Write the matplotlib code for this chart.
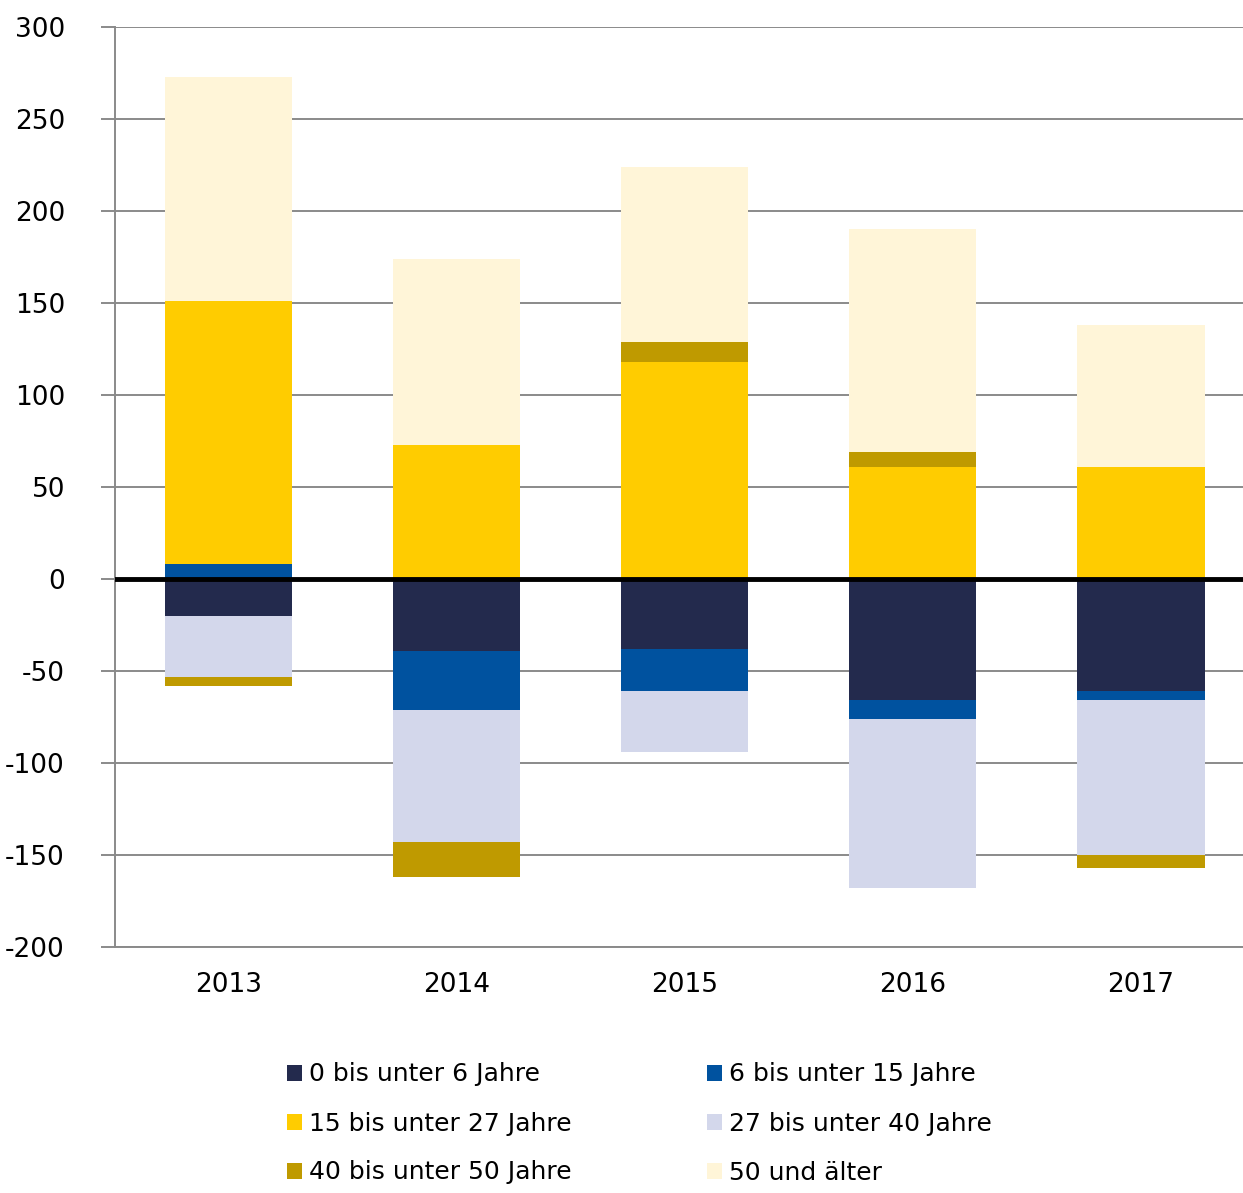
import numpy as np
import matplotlib
matplotlib.use('Agg')
import matplotlib.pyplot as plt

years = ['2013', '2014', '2015', '2016', '2017']
series_names = ['0 bis unter 6 Jahre', '6 bis unter 15 Jahre', '15 bis unter 27 Jahre',
                '27 bis unter 40 Jahre', '40 bis unter 50 Jahre', '50 und älter']
s0_6 = [-20, -39, -38, -66, -61]
s6_15 = [8, -32, -23, -10, -5]
s15_27 = [143, 73, 118, 61, 61]
s27_40 = [-33, -72, -33, -92, -84]
s40_50 = [-5, -19, 11, 8, -7]
s50 = [122, 101, 95, 121, 77]
colors = ['#232A4D', '#00529F', '#FFCC00', '#D3D7EB', '#BF9A00', '#FFF5D8']

plt.rcParams['font.family'] = ['DejaVu Sans']
plt.rcParams['axes.unicode_minus'] = False

fig = plt.figure(figsize=(12.43, 11.93), dpi=100)
ax = fig.add_axes([115/1243, 1-947/1193, 1-115/1243, (947-27)/1193])

x = np.arange(len(years))
pos_bottom = np.zeros(len(years))
neg_bottom = np.zeros(len(years))
handles = []
for name, vals, col in zip(series_names, [s0_6, s6_15, s15_27, s27_40, s40_50, s50], colors):
    vals = np.array(vals, dtype=float)
    bottoms = np.where(vals >= 0, pos_bottom, neg_bottom)
    b = ax.bar(x, vals, bottom=bottoms, width=0.557, color=col, label=name, zorder=3)
    handles.append(b)
    pos_bottom += np.where(vals >= 0, vals, 0)
    neg_bottom += np.where(vals < 0, vals, 0)

ax.set_xlim(-0.496, 4.447)
ax.set_ylim(-200, 300)
ax.set_yticks(range(-200, 301, 50))
ax.set_xticks(x)
ax.set_xticklabels(years)
ax.grid(axis='y', color='#8a8a8a', linewidth=1.4, zorder=0)
ax.axhline(0, color='black', linewidth=3.5, zorder=4)

for s in ['top', 'right']:
    ax.spines[s].set_visible(False)
for s in ['left', 'bottom']:
    ax.spines[s].set_color('#8a8a8a')
    ax.spines[s].set_linewidth(1.4)
ax.tick_params(axis='y', length=10, width=1.4, color='#8a8a8a', pad=26, labelsize=19)
ax.tick_params(axis='x', length=0, pad=18, labelsize=19)

order = [0, 2, 4, 1, 3, 5]
fig.legend([handles[i] for i in order], [series_names[i] for i in order],
           ncol=2, loc='upper left', bbox_to_anchor=(274/1243, 1-1050/1193),
           frameon=False, fontsize=18, handlelength=0.6, handleheight=0.6,
           handletextpad=0.3, columnspacing=5.4, labelspacing=1.0, borderpad=0)

fig.savefig('out.png', dpi=100)
